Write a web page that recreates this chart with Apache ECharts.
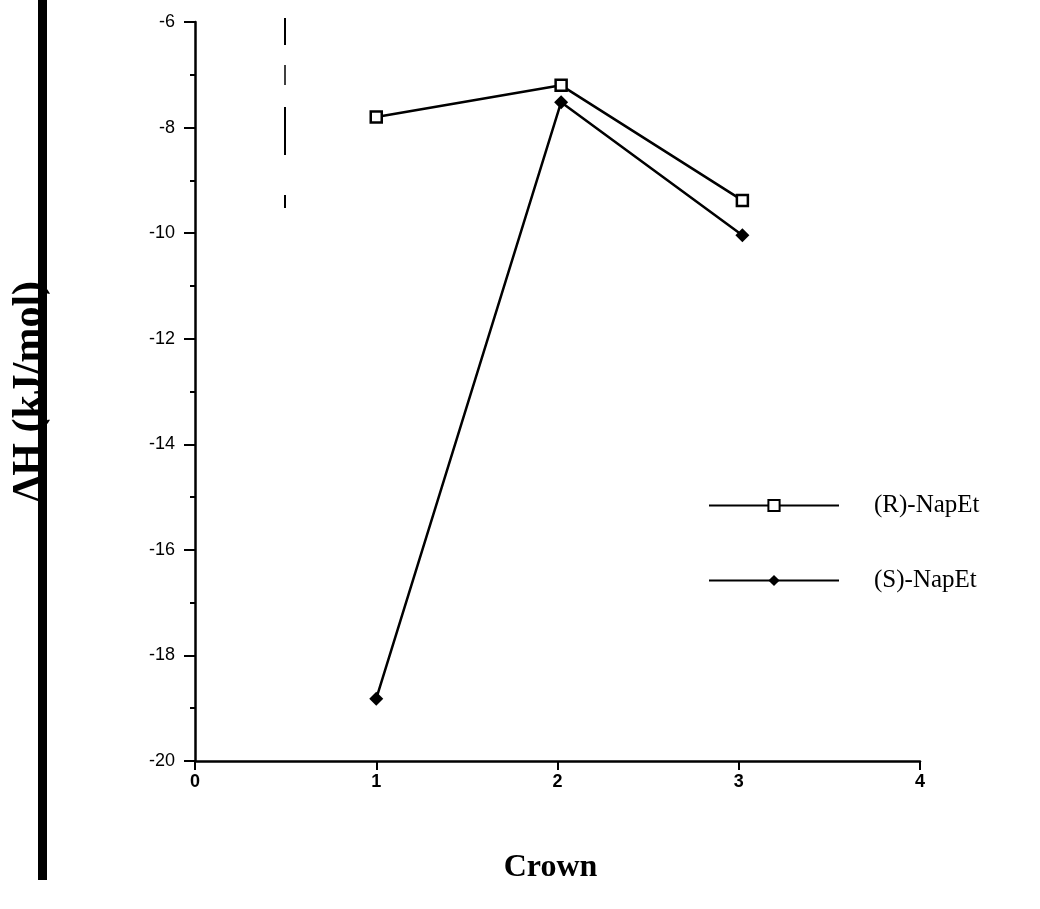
<!DOCTYPE html>
<html>
<head>
<meta charset="utf-8">
<script src="https://cdn.jsdelivr.net/npm/echarts@6/dist/echarts.min.js"></script>
<style>
  html, body { margin: 0; padding: 0; background: #fff; }
  #chart { width: 1040px; height: 909px; }
</style>
</head>
<body>
<div id="chart"></div>
<script>
const crown = [1, 2.02, 3.02];
const rNapEt = [-7.8, -7.2, -9.38];
const sNapEt = [-18.82, -7.52, -10.04];
const seriesNames = ["(R)-NapEt", "(S)-NapEt"];

const chart = echarts.init(document.getElementById("chart"));

const toPairs = (ys) => crown.map((x, i) => [x, ys[i]]);
const ink = "#000";

chart.setOption({
  animation: false,
  backgroundColor: "#fff",
  grid: { left: 195, right: 120, top: 22, bottom: 148, outerBoundsMode: "none", containLabel: false },
  legend: {
    orient: "vertical",
    left: 703,
    top: 488,
    itemWidth: 130,
    itemHeight: 14,
    itemGap: 50,
    textStyle: { fontFamily: "Liberation Serif", fontSize: 25, color: ink, padding: [0, 0, 0, 30] },
    data: seriesNames,
  },
  xAxis: {
    type: "value",
    min: 0,
    max: 4,
    interval: 1,
    name: "Crown",
    nameLocation: "middle",
    nameGap: 91,
    nameTextStyle: { fontFamily: "Liberation Serif", fontWeight: "bold", fontSize: 32, color: ink, padding: [0, 14, 0, 0] },
    axisLine: { lineStyle: { color: ink, width: 2.5 } },
    axisTick: { show: true, length: 9, lineStyle: { color: ink, width: 2 } },
    axisLabel: { color: ink, fontFamily: "Liberation Sans", fontWeight: "bold", fontSize: 18, margin: 12 },
    splitLine: { show: false },
  },
  yAxis: {
    type: "value",
    min: -20,
    max: -6,
    interval: 2,
    name: "ΔH (kJ/mol)",
    nameLocation: "middle",
    nameRotate: 90,
    nameGap: 144,
    nameTextStyle: { fontFamily: "Liberation Serif", fontWeight: "bold", fontSize: 42, color: ink },
    axisLine: { show: true, lineStyle: { color: ink, width: 2.5 } },
    axisTick: { show: true, length: 11, lineStyle: { color: ink, width: 2 } },
    minorTick: { show: true, splitNumber: 2, length: 5, lineStyle: { color: ink, width: 2 } },
    axisLabel: { color: ink, fontFamily: "Liberation Sans", fontSize: 18, margin: 20 },
    splitLine: { show: false },
  },
  series: [
    {
      name: seriesNames[0],
      type: "line",
      data: toPairs(rNapEt),
      symbol: "rect",
      symbolSize: 11,
      itemStyle: { color: "#fff", borderColor: ink, borderWidth: 2.5 },
      lineStyle: { color: ink, width: 2.5 },
    },
    {
      name: seriesNames[1],
      type: "line",
      data: toPairs(sNapEt),
      symbol: "diamond",
      symbolSize: 14,
      itemStyle: { color: ink },
      lineStyle: { color: ink, width: 2.5 },
    },
  ],
  graphic: [
    { type: "rect", shape: { x: 38, y: 0, width: 9, height: 880 }, style: { fill: ink } },
    { type: "line", shape: { x1: 285, y1: 18, x2: 285, y2: 45 }, style: { stroke: ink, lineWidth: 2 } },
    { type: "line", shape: { x1: 285, y1: 65, x2: 285, y2: 85 }, style: { stroke: ink, lineWidth: 1.5 } },
    { type: "line", shape: { x1: 285, y1: 107, x2: 285, y2: 155 }, style: { stroke: ink, lineWidth: 2 } },
    { type: "line", shape: { x1: 285, y1: 195, x2: 285, y2: 208 }, style: { stroke: ink, lineWidth: 2 } },
  ],
});
</script>
</body>
</html>
